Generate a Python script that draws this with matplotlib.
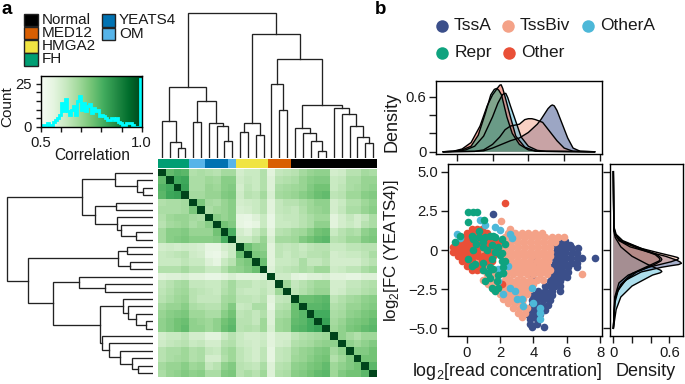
import matplotlib
matplotlib.use("Agg")
import matplotlib.pyplot as plt
import numpy as np
from matplotlib.patches import Rectangle

plt.rcParams["font.family"] = ["Liberation Sans", "DejaVu Sans"]
plt.rcParams["mathtext.fontset"] = "custom"
plt.rcParams["mathtext.rm"] = "Liberation Sans"
plt.rcParams["text.color"] = "#1a1a1a"
plt.rcParams["axes.linewidth"] = 1.0

W, H = 685, 384
INK = "#1a1a1a"

# sample groups along the heatmap
GROUP_NAMES = ["FH", "OM", "YEATS4", "OM", "HMGA2", "MED12", "Normal"]
GROUP_SIZES = [4, 2, 3, 1, 4, 3, 11]
GROUP_COLORS = {"Normal": "#000000", "MED12": "#d95f02", "HMGA2": "#f0e442",
                "FH": "#009e73", "YEATS4": "#0072b2", "OM": "#56b4e9"}

# merges: (left node, right node, height); leaves are 0..27, new nodes count on from 28
MERGES = [
    (2, 3, 10), (1, 28, 16.3), (0, 29, 37.3), (4, 5, 36.3), (8, 9, 17.3), (7, 32, 32),
    (6, 33, 35.3), (31, 34, 57.3), (30, 35, 70.7), (10, 11, 26), (12, 13, 23),
    (37, 38, 34.7), (15, 16, 47.7), (14, 40, 74), (20, 21, 7.3), (19, 42, 17.3),
    (18, 43, 24.7), (17, 44, 30), (26, 27, 15), (25, 46, 21.3), (24, 47, 32.3),
    (23, 48, 43.7), (22, 49, 50.3), (45, 50, 52.7), (41, 51, 99), (39, 52, 124),
    (36, 53, 145.3),
]

# correlation, upper triangle by row, diagonal left out
CORR_UPPER = [
    [.77,.79,.78,.66,.67,.66,.65,.68,.68,.60,.62,.62,.66,.57,.63,.64,.65,.68,.70,.71,.71,.60,.61,.65,.65,.68,.67],
    [.81,.82,.67,.67,.69,.68,.72,.72,.61,.63,.62,.66,.58,.65,.66,.67,.70,.72,.73,.73,.62,.63,.67,.67,.70,.70],
    [.83,.67,.67,.70,.69,.72,.73,.60,.64,.62,.66,.58,.67,.68,.69,.70,.73,.75,.75,.62,.64,.67,.68,.70,.71],
    [.68,.68,.70,.70,.73,.74,.61,.65,.64,.68,.59,.68,.69,.70,.72,.74,.76,.77,.64,.65,.69,.69,.72,.73],
    [.74,.68,.67,.70,.72,.60,.61,.62,.65,.57,.63,.65,.65,.67,.69,.71,.71,.60,.62,.66,.66,.69,.71],
    [.67,.69,.70,.72,.59,.60,.62,.65,.57,.63,.64,.63,.66,.69,.70,.71,.60,.63,.67,.67,.70,.72],
    [.72,.70,.72,.56,.55,.58,.62,.55,.62,.63,.63,.65,.67,.69,.69,.57,.60,.63,.60,.63,.67],
    [.75,.73,.56,.54,.56,.62,.55,.62,.62,.63,.65,.67,.71,.71,.57,.60,.62,.60,.65,.67],
    [.80,.60,.58,.62,.66,.57,.65,.66,.68,.69,.72,.75,.76,.62,.65,.67,.66,.71,.73],
    [.62,.62,.65,.70,.59,.68,.68,.69,.73,.75,.77,.78,.65,.66,.69,.69,.73,.74],
    [.76,.72,.71,.57,.64,.63,.64,.62,.64,.65,.65,.62,.62,.64,.64,.65,.65],
    [.74,.73,.57,.64,.62,.64,.63,.65,.65,.66,.60,.61,.62,.62,.64,.67],
    [.76,.57,.62,.62,.63,.67,.63,.63,.65,.60,.60,.60,.60,.63,.65],
    [.58,.63,.64,.65,.67,.66,.69,.69,.61,.62,.64,.64,.67,.69],
    [.61,.61,.57,.56,.58,.58,.59,.57,.57,.56,.56,.58,.58],
    [.69,.63,.65,.67,.69,.69,.60,.60,.63,.63,.65,.66],
    [.64,.66,.68,.70,.70,.60,.61,.64,.64,.66,.67],
    [.76,.76,.77,.78,.64,.66,.68,.69,.71,.72],
    [.78,.78,.79,.66,.67,.70,.70,.72,.73],
    [.81,.81,.67,.68,.71,.72,.74,.75],
    [.83,.68,.70,.73,.74,.75,.77],
    [.69,.71,.74,.75,.77,.78],
    [.71,.68,.66,.69,.69],
    [.71,.69,.71,.73],
    [.73,.73,.75],
    [.75,.75],
    [.78],
]

# inset histogram of correlations, bins of 0.01 from 0.5
HIST_COUNTS = [1,1,1,2,1,1,3,4,5,7,14,9,16,9,7,10,12,7,15,18,10,14,9,12,13,8,11,9,10,6,
               7,6,5,4,4,5,4,5,3,2,1,1,2,2,2,1,0,0,0,28]
HIST_EDGES = [0.5 + 0.01 * i for i in range(51)]

# panel b, read concentration vs fold change, one (y, [x...]) row at a time
TSSBIV_ROWS = [
    (1.85, [2.05]), (1.35, [2.6]),
    (1.1, [2.5, 2.9, 3.3, 3.7, 4.1, 4.5]),
    (0.8, [2.3, 2.7, 3.1, 3.5, 3.9, 4.3, 4.7, 5.1, 5.5, 5.85]),
    (0.5, [2.2, 2.6, 3.0, 3.4, 3.8, 4.2, 4.6, 5.0, 5.3]),
    (0.2, [2.3, 2.7, 3.1, 3.5, 3.9, 4.3, 4.7, 5.0]),
    (-0.1, [1.0, 2.2, 2.6, 3.0, 3.4, 3.8, 4.2, 4.6, 5.0]),
    (-0.4, [2.3, 2.7, 3.1, 3.5, 3.9, 4.3, 4.7, 5.0]),
    (-0.7, [0.7, 2.3, 2.6, 3.0, 3.4, 3.8, 4.2, 4.6, 4.9]),
    (-1.0, [1.2, 2.4, 2.8, 3.2, 3.6, 4.0, 4.4, 4.8]),
    (-1.3, [0.9, 1.6, 2.3, 2.6, 3.0, 3.4, 3.8, 4.2, 4.6, 5.0]),
    (-1.55, [1.2, 1.6, 2.0, 2.4, 2.8, 3.2, 3.6, 4.0, 4.4, 4.8, 6.9]),
    (-1.9, [1.0, 1.4, 1.8, 2.3, 2.6, 3.0, 3.4, 3.8, 4.2, 4.6]),
    (-2.2, [1.3, 1.6, 2.0, 2.4, 2.8, 3.2, 3.6, 4.0]),
    (-2.5, [1.6, 1.9, 2.2, 2.6, 3.0, 3.4, 3.8]),
    (-2.8, [2.0, 2.4, 2.8, 3.2, 3.6]),
    (-3.1, [2.2, 2.6, 3.0, 3.4]),
    (-3.4, [2.5, 2.9, 3.3]),
    (-3.7, [2.8, 3.2, 3.6]),
    (-4.0, [3.1, 3.5]),
    (-4.25, [3.3]),
]
TSSA_ROWS = [
    (2.3, [1.55]),
    (0.6, [5.5, 5.9]),
    (0.35, [5.3, 5.6, 5.95, 6.2]),
    (0.1, [5.4, 5.7, 6.0, 6.3, 6.7]),
    (-0.2, [5.3, 5.6, 5.9, 6.3, 6.6]),
    (-0.5, [5.3, 5.6, 5.9, 6.2, 6.6, 6.9, 7.7, 3.9]),
    (-0.85, [5.3, 5.6, 5.9, 6.3, 6.6, 4.1]),
    (-1.1, [3.8, 5.1, 5.4, 5.7, 6.1, 6.6]),
    (-1.4, [5.2, 5.5, 5.8, 6.1, 4.1]),
    (-1.7, [3.9, 5.1, 5.4, 5.7, 6.0]),
    (-2.0, [5.0, 5.3, 5.6]),
    (-2.3, [4.7, 5.0, 5.3, 5.6]),
    (-2.6, [4.3, 4.7, 5.1, 5.6]),
    (-2.9, [4.0, 4.4, 4.8, 5.1]),
    (-3.2, [3.9, 4.2, 4.6, 5.0]),
    (-3.5, [3.9, 4.2, 4.5, 4.9]),
    (-3.8, [3.6, 3.9, 4.2, 4.7]),
    (-4.1, [3.6, 4.0, 4.4]),
    (-4.4, [3.8, 4.2]),
    (-4.7, [3.8, 4.2]),
    (-4.9, [3.9, 4.65]),
]
OTHER_ROWS = [
    (3.0, [2.3]),
    (1.35, [0.3, 0.6, 0.9]),
    (1.1, [0.0, 0.3, 0.6, 0.9, 1.2]),
    (0.8, [-0.3, 0.0, 0.3, 0.6, 0.9, 1.2, 1.5]),
    (0.5, [-0.5, -0.2, 0.1, 0.4, 0.7, 1.0, 1.3, 1.6, 1.9]),
    (0.2, [-0.8, -0.5, -0.2, 0.1, 0.4, 0.7, 1.0, 1.3, 1.6, 1.9]),
    (-0.1, [-0.85, -0.6, -0.3, 0.0, 0.3, 0.6, 1.2, 1.5, 1.8]),
    (-0.4, [-0.5, -0.2, 0.1, 0.4, 0.7, 1.0, 1.3, 1.6]),
    (-0.7, [-0.3, 0.0, 0.3, 0.9, 1.2, 1.5]),
    (-1.0, [0.0, 0.3, 0.6, 0.9]),
    (-1.3, [0.3, 0.6]),
    (-2.15, [2.1]),
]
OTHERA_ROWS = [
    (1.9, [0.8]), (1.6, [1.1]), (1.5, [1.7]), (1.25, [2.0]), (1.0, [-0.6, 2.6]), (0.75, [-0.4, 2.7]),
    (-1.0, [2.5]), (-1.2, [1.9]), (-1.5, [2.2]), (-2.0, [1.9]), (-2.4, [2.6, 3.9]), (-2.6, [2.9]),
    (-2.8, [2.2]), (-3.1, [3.0, 3.3]), (-3.4, [4.0]), (-3.6, [3.4]), (-3.7, [4.4]), (-4.0, [4.4]), (-4.4, [4.4]),
]
REPR_ROWS = [
    (2.4, [0.1, 0.35, 0.6]), (1.9, [1.05]), (1.8, [0.05]), (1.2, [0.75]),
    (0.9, [-0.4, 1.6, 1.4, 0.3]), (0.8, [0.75, 1.7, 1.1]), (0.7, [0.35, 2.1]), (0.5, [-0.7, 1.0]),
    (0.4, [2.3, 0.55]), (0.3, [1.5]), (0.2, [1.9, 0.95]), (0.0, [0.4, 1.2]), (-0.1, [1.7]), (-0.2, [2.1]),
    (-0.3, [2.0]), (-0.6, [0.1, 1.5]), (-0.7, [2.1, 2.3]), (-0.8, [1.0]), (-0.9, [0.5]), (-1.0, [0.3]),
    (-1.1, [2.2, 1.4]), (-1.2, [1.6]), (-1.3, [1.0]), (-1.5, [1.3, 2.2]), (-1.6, [1.9]), (-1.8, [1.4]),
    (-2.0, [1.8, 1.1]), (-2.4, [1.5, 1.9]), (-2.6, [1.7]),
]

# density along read concentration (top panel)
TOP_TSSA = ([-.75,1,1.5,2,2.5,3,3.5,4,4.5,4.7,4.9,5.1,5.25,5.34,5.45,5.6,5.9,6.2,6.5,6.9,7.7],
            [0,.004,.01,.04,.08,.12,.15,.21,.30,.35,.41,.47,.50,.51,.50,.45,.30,.15,.04,.005,0])
TOP_TSSBIV = ([-.75,1,1.5,2,2.4,2.7,3.0,3.5,3.8,4,4.2,4.4,4.8,5.2,5.6,6,6.5,7.7],
              [0,.004,.02,.08,.16,.24,.28,.30,.35,.36,.36,.35,.32,.22,.12,.04,.005,0])
TOP_OTHERA = ([-.75,0,.5,1,1.5,2,2.3,2.55,2.65,2.74,2.85,3,3.3,3.6,4,4.5,5,7.7],
              [0,.005,.02,.06,.17,.38,.53,.62,.635,.636,.59,.5,.33,.16,.06,.015,.004,0])
TOP_REPR = ([-.75,-.2,.3,.8,1.2,1.6,1.9,2.1,2.23,2.35,2.5,2.8,3.1,3.5,4,4.6,7.7],
            [0,.005,.02,.06,.18,.42,.62,.68,.69,.67,.62,.38,.2,.08,.02,.004,0])
TOP_OTHER = ([-.75,-.2,.3,.8,1.3,1.7,2,2.3,2.4,2.48,2.57,2.7,3,3.3,3.8,4.4,7.7],
             [0,.005,.03,.1,.28,.5,.62,.70,.725,.73,.69,.6,.38,.17,.05,.006,0])

# density along fold change (right panel)
SIDE_TSSA = ([5,1.5,1,.6,.2,-.1,-.4,-.65,-.78,-.85,-.93,-1.0,-1.1,-1.4,-1.9,-2.5,-3.2,-5],
             [0,.005,.02,.06,.18,.36,.56,.68,.72,.73,.70,.62,.52,.30,.14,.05,.015,0])
SIDE_TSSBIV = ([5,1.5,1,.6,.1,-.2,-.4,-.48,-.53,-.6,-.75,-1.1,-1.6,-2.1,-3,-5],
               [0,.005,.02,.07,.3,.5,.64,.69,.70,.69,.62,.38,.16,.06,.015,0])
SIDE_OTHERA = ([5,1.2,.8,.2,-.4,-.9,-1.3,-1.38,-1.46,-1.6,-2.3,-3,-3.8,-5],
               [0,.005,.02,.08,.2,.36,.51,.52,.50,.42,.2,.08,.03,0])
SIDE_REPR = ([5,1.5,1,.6,.1,-.3,-.5,-.6,-.7,-.9,-1.4,-2.0,-2.6,-3.4,-5],
             [0,.005,.03,.1,.3,.47,.51,.52,.51,.45,.25,.12,.05,.015,0])
SIDE_OTHER = ([5,1.3,.9,.5,.1,-.3,-.5,-.6,-.7,-.95,-1.5,-2.2,-3,-5],
              [0,.005,.03,.1,.27,.45,.49,.5,.49,.4,.2,.08,.02,0])

COL_TSSA = "#3b4f8a"
COL_TSSBIV = "#f4a288"
COL_OTHERA = "#4db8d8"
COL_REPR = "#0fa37f"
COL_OTHER = "#e94f37"


def px_axes(fig, left, top, right, bottom):
    return fig.add_axes([left / W, 1 - bottom / H, (right - left) / W, (bottom - top) / H])


def dendro_segments(merges, n_leaves):
    # leaf slot -> position, merged node sits midway between its children
    pos = [i + 0.5 for i in range(n_leaves)]
    height = [0.0] * n_leaves
    segs = []
    for a, b, h in merges:
        segs.append(([pos[a], pos[a], pos[b], pos[b]], [height[a], h, h, height[b]]))
        pos.append((pos[a] + pos[b]) / 2)
        height.append(h)
    return segs


def unpack_rows(rows):
    xs = [x for _, row in rows for x in row]
    ys = [y for y, row in rows for _ in row]
    return xs, ys


def style_ticks(ax):
    ax.tick_params(length=5, width=1, labelsize=10.7, pad=2, color=INK, labelcolor=INK)


fig = plt.figure(figsize=(W / 100, H / 100), dpi=100)

# page-level overlay in pixels, for legends and free labels
page = fig.add_axes([0, 0, 1, 1], zorder=5)
page.set_xlim(0, W)
page.set_ylim(H, 0)
page.axis("off")

page.text(1, 9, "a", fontsize=13.5, fontweight="bold", color="black", va="center")
page.text(375, 9, "b", fontsize=13.5, fontweight="bold", color="black", va="center")

for name, x, y in [("Normal", 24.5, 13.5), ("MED12", 24.5, 26.5), ("HMGA2", 24.5, 40), ("FH", 24.5, 53),
                   ("YEATS4", 102, 14), ("OM", 102, 27.5)]:
    page.add_patch(Rectangle((x, y), 13.5, 12.5, fc=GROUP_COLORS[name], ec="#222222", lw=1))
    page.text(x + 17, y + 6.3, name, fontsize=11, va="center", color=INK)

for name, col, x, y, tx in [("TssA", COL_TSSA, 441.7, 26, 453.5), ("TssBiv", COL_TSSBIV, 508.3, 26, 520),
                            ("OtherA", COL_OTHERA, 588.3, 26, 600), ("Repr", COL_REPR, 442.3, 52.7, 455),
                            ("Other", COL_OTHER, 509.3, 52.7, 521)]:
    page.plot([x], [y], "o", ms=9, color=col, mew=0)
    page.text(tx, y, name, fontsize=12.5, va="center", color=INK)

page.text(7, 107, "Count", fontsize=11, rotation=90, ha="center", va="center")
page.text(92, 155, "Correlation", fontsize=11.2, ha="center", va="center")
page.text(392, 122, "Density", fontsize=13, rotation=90, ha="center", va="center")
page.text(392, 251, "log$_2$[FC (YEATS4)]", fontsize=12.2, rotation=90, ha="center", va="center")
page.text(507.5, 372, "log$_2$[read concentration]", fontsize=12.9, ha="center", va="center")
page.text(646, 372, "Density", fontsize=13, ha="center", va="center")

# inset colour key with histogram
ax_key = px_axes(fig, 41, 76, 141.7, 126.7)
ax_key.imshow(np.linspace(0.5, 1, 256)[None, :], cmap="Greens", vmin=0.5, vmax=1, aspect="auto",
              extent=(0.5, 1.0, 0, 30))
ax_key.stairs(HIST_COUNTS, HIST_EDGES, color="#00ffff", lw=2)
ax_key.set_xlim(0.5, 1.0)
ax_key.set_ylim(0, 29.5)
ax_key.set_xticks([0.5, 0.6, 0.7, 0.8, 0.9, 1.0], ["0.5", "", "", "", "", "1.0"])
ax_key.set_yticks([0, 5, 10, 15, 20, 25], ["0", "", "", "", "", "25"])
style_ticks(ax_key)
ax_key.tick_params(length=3.5, pad=3)

# group colour strip
ax_strip = px_axes(fig, 158, 158.5, 377, 168)
strip_left = 0
for name, size in zip(GROUP_NAMES, GROUP_SIZES):
    ax_strip.bar(strip_left, 1, width=size, align="edge", color=GROUP_COLORS[name], lw=0)
    strip_left += size
ax_strip.set_xlim(0, 28)
ax_strip.set_ylim(0, 1)
ax_strip.axis("off")

# heatmap
corr = np.eye(28)
for i, row in enumerate(CORR_UPPER):
    corr[i, i + 1:] = row
    corr[i + 1:, i] = row
ax_heat = px_axes(fig, 158, 169.3, 377, 376.7)
ax_heat.imshow(corr, cmap="Greens", vmin=0.5, vmax=1, aspect="auto", interpolation="nearest")
ax_heat.axis("off")

# dendrograms share one tree
ax_top = px_axes(fig, 158, 12, 377, 158)
ax_left = px_axes(fig, 2, 169.3, 153, 376.7)
for xs, hs in dendro_segments(MERGES, 28):
    ax_top.plot(xs, hs, color="#222222", lw=0.95, solid_joinstyle="miter")
    ax_left.plot(hs, xs, color="#222222", lw=0.95, solid_joinstyle="miter")
ax_top.set_xlim(0, 28)
ax_top.set_ylim(0, 146)
ax_top.axis("off")
ax_left.set_xlim(150, 0)
ax_left.set_ylim(28, 0)
ax_left.axis("off")

# top density
ax_d1 = px_axes(fig, 436, 81, 601.7, 154.3)
for (xs, ys), col in [(TOP_TSSA, COL_TSSA), (TOP_TSSBIV, COL_TSSBIV), (TOP_OTHERA, COL_OTHERA),
                      (TOP_OTHER, COL_OTHER), (TOP_REPR, COL_REPR)]:
    ax_d1.fill(xs, ys, fc=col, alpha=0.5, lw=0)
    ax_d1.plot(xs, ys, color="black", lw=1.0)
ax_d1.set_xlim(-1.16, 8.1)
ax_d1.set_ylim(-0.028, 0.771)
ax_d1.set_xticks([0, 2, 4, 6, 8], [""] * 5)
ax_d1.set_yticks([0, 0.2, 0.4, 0.6], ["0", "", "", "0.6"])
style_ticks(ax_d1)

# scatter
ax_sc = px_axes(fig, 447.7, 164, 601.7, 336)
for rows, col in [(TSSA_ROWS, COL_TSSA), (TSSBIV_ROWS, COL_TSSBIV), (OTHER_ROWS, COL_OTHER),
                  (OTHERA_ROWS, COL_OTHERA), (REPR_ROWS, COL_REPR)]:
    xs, ys = unpack_rows(rows)
    ax_sc.scatter(xs, ys, s=30, color=col, lw=0)
ax_sc.set_xlim(-1.14, 8.1)
ax_sc.set_ylim(-5.49, 5.49)
ax_sc.set_xticks([0, 2, 4, 6, 8])
ax_sc.set_yticks([-5, -2.5, 0, 2.5, 5], ["\u22125.0", "\u22122.5", "0", "2.5", "5.0"])
style_ticks(ax_sc)

# side density, green first so the pink and navy sit on top as in the original
ax_d2 = px_axes(fig, 610, 164, 683.3, 336)
for (ys, xs), col in [(SIDE_REPR, COL_REPR), (SIDE_OTHER, COL_OTHER), (SIDE_OTHERA, COL_OTHERA),
                      (SIDE_TSSA, COL_TSSA), (SIDE_TSSBIV, COL_TSSBIV)]:
    ax_d2.fill(xs, ys, fc=col, alpha=0.45, lw=0)
    ax_d2.plot(xs, ys, color="black", lw=1.0)
ax_d2.set_xlim(-0.036, 0.75)
ax_d2.set_ylim(-5.49, 5.49)
ax_d2.set_xticks([0, 0.2, 0.4, 0.6], ["0", "", "", "0.6"])
ax_d2.set_yticks([-5, -2.5, 0, 2.5, 5], [""] * 5)
style_ticks(ax_d2)

fig.savefig("out.png", dpi=100)
